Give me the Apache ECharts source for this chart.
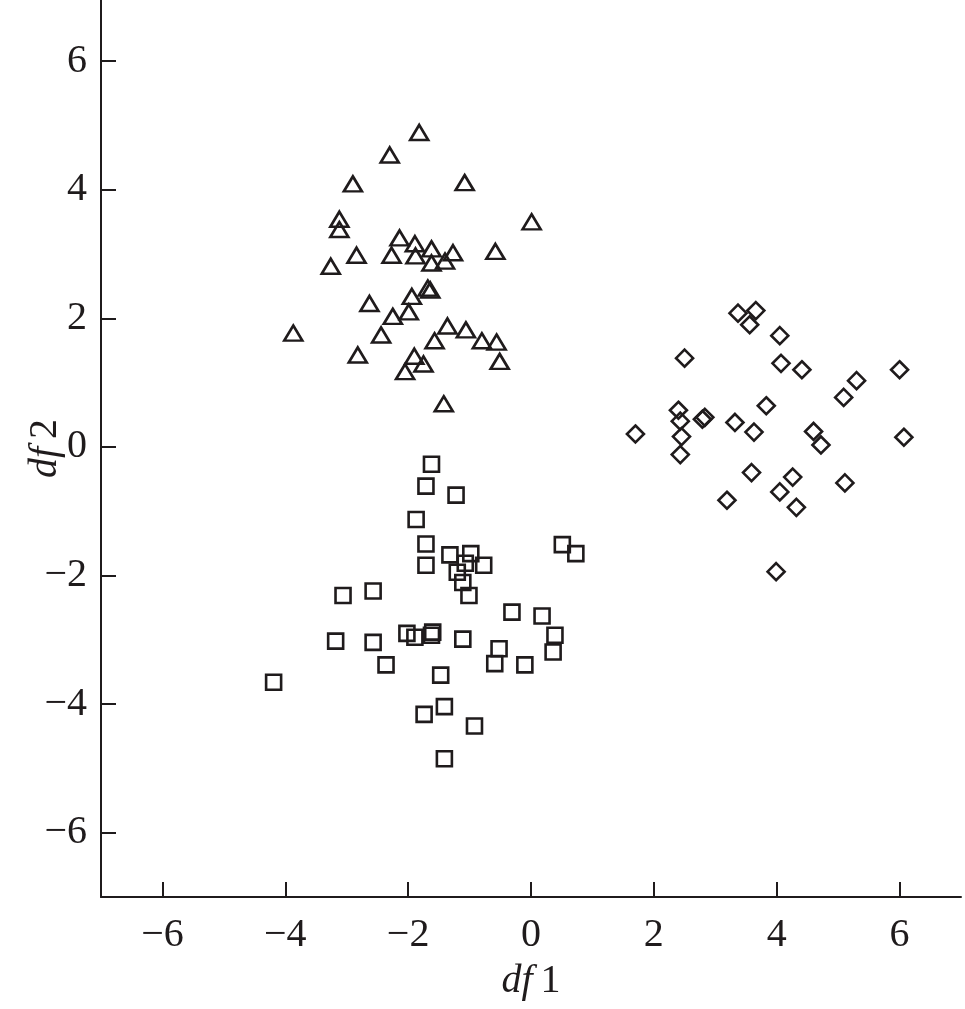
<!DOCTYPE html>
<html>
<head>
<meta charset="utf-8">
<script src="https://cdn.jsdelivr.net/npm/echarts@6/dist/echarts.min.js"></script>
<style>
html,body{margin:0;padding:0;background:#fff;}
#chart{width:965px;height:1009px;}
</style>
</head>
<body>
<div id="chart"></div>
<script>
// Group 1 (triangles): [df1, df2]
const triangles = [
  [-1.82, 4.89], [-2.30, 4.54], [-2.90, 4.09], [-1.08, 4.11], [0.01, 3.50],
  [-3.12, 3.54], [-3.12, 3.38], [-2.14, 3.25], [-1.89, 3.16], [-1.62, 3.08],
  [-1.27, 3.02], [-0.58, 3.04], [-2.84, 2.98], [-2.27, 2.98], [-1.88, 2.97],
  [-1.62, 2.86], [-1.40, 2.89], [-3.26, 2.81], [-1.68, 2.47], [-1.64, 2.44],
  [-1.94, 2.34], [-2.63, 2.23], [-1.99, 2.10], [-2.25, 2.03], [-3.87, 1.77],
  [-2.44, 1.74], [-1.36, 1.88], [-1.06, 1.82], [-1.57, 1.65], [-0.80, 1.65],
  [-0.56, 1.63], [-2.82, 1.43], [-0.51, 1.33], [-1.90, 1.41], [-1.75, 1.29],
  [-2.05, 1.17], [-1.42, 0.67]
];
// Group 2 (diamonds)
const diamonds = [
  [3.37, 2.08], [3.66, 2.12], [3.56, 1.90], [4.05, 1.73], [2.50, 1.38],
  [4.07, 1.30], [4.41, 1.20], [6.00, 1.20], [5.30, 1.03], [5.09, 0.77],
  [3.83, 0.64], [2.40, 0.57], [2.43, 0.40], [2.79, 0.43], [2.83, 0.46],
  [3.32, 0.38], [1.70, 0.20], [3.63, 0.23], [4.60, 0.24], [2.45, 0.16],
  [4.72, 0.03], [6.07, 0.15], [2.43, -0.12], [3.59, -0.40], [4.26, -0.47],
  [5.11, -0.56], [4.05, -0.70], [3.19, -0.83], [4.32, -0.94], [3.99, -1.94]
];
// Group 3 (squares)
const squares = [
  [-1.62, -0.27], [-1.71, -0.61], [-1.22, -0.75], [-1.87, -1.13], [-1.71, -1.51],
  [-1.32, -1.68], [-0.98, -1.66], [-1.07, -1.81], [-0.77, -1.84], [-1.71, -1.84],
  [-1.20, -1.95], [-1.11, -2.11], [-1.01, -2.31], [0.51, -1.52], [0.73, -1.66],
  [-3.06, -2.31], [-2.57, -2.24], [-0.31, -2.57], [0.18, -2.63], [0.39, -2.93],
  [0.36, -3.19], [-3.18, -3.02], [-2.57, -3.04], [-2.02, -2.90], [-1.89, -2.96],
  [-1.60, -2.88], [-1.62, -2.93], [-1.11, -2.99], [-0.52, -3.14], [-0.59, -3.37],
  [-0.10, -3.39], [-2.36, -3.39], [-1.47, -3.55], [-4.19, -3.66], [-1.41, -4.04],
  [-1.74, -4.16], [-0.92, -4.34], [-1.41, -4.85]
];
const xTicks = [-6, -4, -2, 0, 2, 4, 6];
const yTicks = [-6, -4, -2, 0, 2, 4, 6];
const xName = 'df 1';
const yName = 'df 2';

const ink = '#1f1b1c';
const fontFam = '"Liberation Serif", "DejaVu Serif", serif';
function fmt(v) { return v < 0 ? '\u2212' + Math.abs(v) : String(v); }
function nameRich(n) {
  const parts = n.split(' ');
  return '{i|' + parts[0] + '}{n|' + parts[1] + '}';
}
const richName = {
  i: { fontFamily: fontFam, fontStyle: 'italic', fontSize: 40, color: ink },
  n: { fontFamily: fontFam, fontSize: 40, color: ink, padding: [0, 0, 0, 8] }
};
const markerStyle = { color: 'rgba(0,0,0,0)', borderColor: ink, borderWidth: 2.6, opacity: 1 };

const chart = echarts.init(document.getElementById('chart'), null, { renderer: 'canvas' });
chart.setOption({
  animation: false,
  backgroundColor: '#fff',
  grid: { left: 101, right: 4, top: 0, bottom: 112, containLabel: false, outerBoundsMode: 'none' },
  xAxis: {
    type: 'value', min: -7, max: 7,
    name: nameRich(xName), nameLocation: 'middle', nameGap: 64, nameMoveOverlap: false,
    nameTextStyle: { rich: richName },
    axisLine: { onZero: false, lineStyle: { color: ink, width: 2 } },
    axisTick: { inside: true, length: 15, customValues: xTicks, lineStyle: { color: ink, width: 2 } },
    axisLabel: { customValues: xTicks, formatter: fmt, margin: 18, color: ink, fontFamily: fontFam, fontSize: 40 },
    splitLine: { show: false }
  },
  yAxis: {
    type: 'value', min: -7, max: 6.95,
    name: nameRich(yName), nameLocation: 'middle', nameGap: 36, nameRotate: 90, nameMoveOverlap: false,
    nameTextStyle: { rich: richName },
    axisLine: { onZero: false, lineStyle: { color: ink, width: 2 } },
    axisTick: { inside: true, length: 15, customValues: yTicks, lineStyle: { color: ink, width: 2 } },
    axisLabel: { customValues: yTicks, formatter: fmt, margin: 14, color: ink, fontFamily: fontFam, fontSize: 40 },
    splitLine: { show: false }
  },
  series: [
    { type: 'scatter', data: triangles, symbol: 'triangle', symbolSize: [18, 15], itemStyle: markerStyle },
    { type: 'scatter', data: diamonds, symbol: 'diamond', symbolSize: [17, 17], itemStyle: markerStyle },
    { type: 'scatter', data: squares, symbol: 'rect', symbolSize: [15, 15], itemStyle: markerStyle }
  ]
});
</script>
</body>
</html>
